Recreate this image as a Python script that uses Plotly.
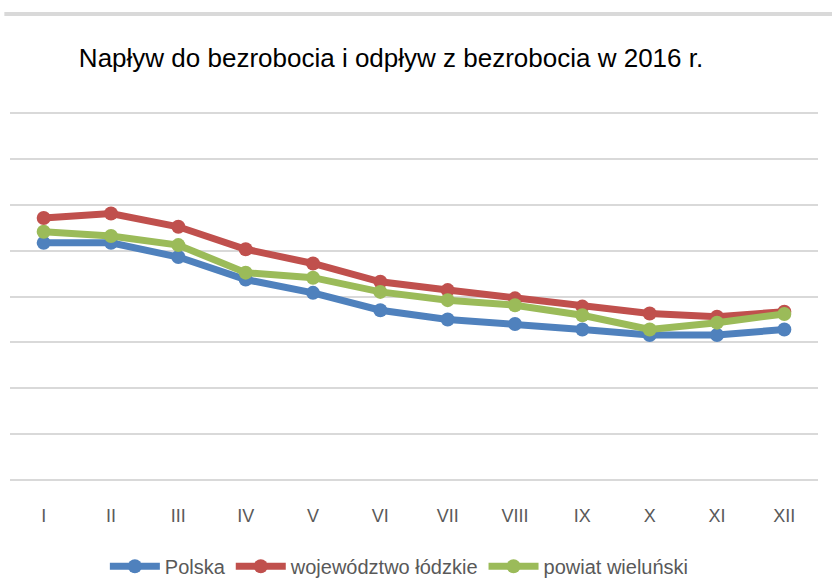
import plotly.graph_objects as go

months = ["I", "II", "III", "IV", "V", "VI", "VII", "VIII", "IX", "X", "XI", "XII"]
polska = [5.17, 5.17, 4.86, 4.37, 4.08, 3.70, 3.50, 3.40, 3.28, 3.16, 3.16, 3.28]
lodzkie = [5.71, 5.81, 5.52, 5.03, 4.72, 4.32, 4.14, 3.96, 3.78, 3.63, 3.56, 3.67]
wielunski = [5.41, 5.32, 5.12, 4.52, 4.41, 4.10, 3.92, 3.81, 3.59, 3.28, 3.43, 3.62]
series_names = ["Polska", "województwo łódzkie", "powiat wieluński"]
colors = ["#4F81BD", "#C0504D", "#9BBB59"]
title_text = "Napływ do bezrobocia i odpływ z bezrobocia w 2016 r."

FONT = "Liberation Sans, Arial, sans-serif"
PAD = 2 / 45.9  # small padding so edge gridlines are drawn

fig = go.Figure()
for name, vals, col in zip(series_names, [polska, lodzkie, wielunski], colors):
    fig.add_trace(go.Scatter(
        x=months, y=vals, name=name, mode="lines+markers",
        line=dict(color=col, width=7),
        marker=dict(color=col, size=14, symbol="circle"),
    ))

fig.update_layout(
    width=832, height=579,
    margin=dict(l=10, r=14, t=111, b=97, autoexpand=False),
    paper_bgcolor="white", plot_bgcolor="white",
    font=dict(family=FONT, color="#595959", size=18),
    title=dict(text=title_text, x=0.47, xanchor="center", xref="container",
               y=0.9, yanchor="middle", yref="container",
               font=dict(family=FONT, size=26, color="#000000")),
    showlegend=True,
    legend=dict(orientation="h", x=0.48, xanchor="center", xref="container",
                y=0.022, yanchor="middle", yref="container",
                font=dict(family=FONT, size=20, color="#595959"),
                itemwidth=50, tracegroupgap=0),
    shapes=[dict(type="line", xref="paper", yref="paper", x0=-0.007, x1=1.02,
                 y0=(482 - 14) / 371, y1=(482 - 14) / 371,
                 line=dict(color="#D9D9D9", width=4))],
)
fig.update_xaxes(type="category", range=[-0.5, 11.5], showgrid=False, zeroline=False,
                 showline=False, ticks="outside", ticklen=17, tickcolor="rgba(0,0,0,0)",
                 automargin=False,
                 tickfont=dict(family=FONT, size=18, color="#595959"))
fig.update_yaxes(range=[-PAD, 8 + PAD], tickvals=list(range(0, 9)), showticklabels=False,
                 automargin=False,
                 showgrid=True, gridcolor="#D9D9D9", gridwidth=2, zeroline=False, showline=False)

fig.write_html("out.html", config={"displayModeBar": False},
               post_script="document.body.style.margin='0';")
